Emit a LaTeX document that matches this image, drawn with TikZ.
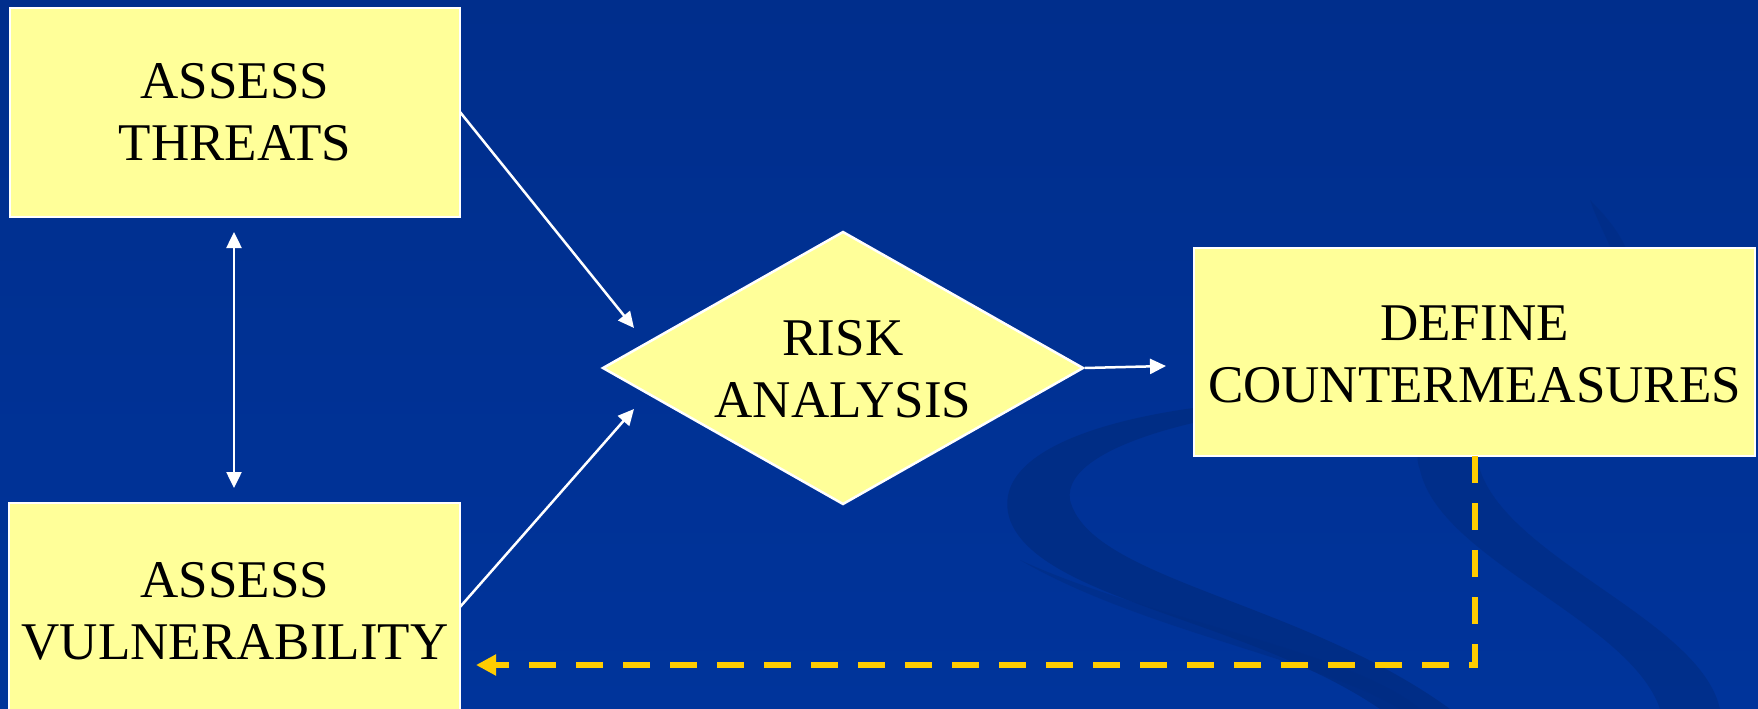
\documentclass[tikz,border=0pt]{standalone}
\usepackage{fontspec}
\setmainfont{Liberation Serif}
\usetikzlibrary{shapes.geometric,arrows.meta}
\definecolor{bgtop}{RGB}{0,46,140}
\definecolor{bgbot}{RGB}{0,52,155}
\definecolor{swoosh}{RGB}{0,44,130}
\definecolor{boxfill}{RGB}{255,255,153}
\definecolor{dashyellow}{RGB}{255,204,0}
\tikzset{
  box/.style={draw=white, line width=2.5pt, fill=boxfill, rectangle, inner sep=0pt},
  diamondbox/.style={draw=white, line width=2.5pt, fill=boxfill, diamond, inner sep=0pt, aspect=1.76},
  txt/.style={align=center, font=\fontsize{53}{62}\selectfont, text=black, inner sep=0pt},
  flow/.style={draw=white, line width=2.5pt, -{Triangle[length=16pt,width=15pt]}},
  both/.style={draw=white, line width=2.5pt, {Triangle[length=16pt,width=15pt]}-{Triangle[length=16pt,width=15pt]}},
  feedback/.style={draw=dashyellow, line width=6pt, dash pattern=on 27pt off 20pt, -{Triangle[length=20pt,width=20pt]}}
}
\begin{document}
\begin{tikzpicture}[x=1pt,y=-1pt]
\useasboundingbox (0,0) rectangle (1758,709);
\clip (0,0) rectangle (1758,709);
\shade[top color=bgtop, bottom color=bgbot] (0,0) rectangle (1758,709);
% background swooshes
\fill[swoosh, opacity=0.8] (1010,520) .. controls (980,430) and (1200,390) .. (1400,400)
  .. controls (1250,400) and (1060,440) .. (1070,500)
  .. controls (1090,580) and (1300,600) .. (1450,709)
  -- (1380,709) .. controls (1250,620) and (1040,600) .. (1010,520) -- cycle;
\fill[swoosh, opacity=0.6] (1420,470) .. controls (1400,420) and (1500,330) .. (1620,320)
  .. controls (1530,350) and (1460,420) .. (1480,470)
  .. controls (1510,560) and (1700,620) .. (1720,709)
  -- (1660,709) .. controls (1630,620) and (1440,560) .. (1420,470) -- cycle;
\fill[swoosh, opacity=0.5] (1590,200) .. controls (1620,230) and (1640,260) .. (1630,300)
  .. controls (1620,260) and (1600,230) .. (1590,200) -- cycle;
\fill[swoosh, opacity=0.5] (1020,560) .. controls (1150,620) and (1350,650) .. (1420,709)
  -- (1400,709) .. controls (1320,660) and (1140,630) .. (1020,560) -- cycle;

\node[box, minimum width=450pt, minimum height=209pt] (threats) at (235,112.5) {};
\node[txt] (threatsT) at (threats.center) {ASSESS\\THREATS};
\node[box, minimum width=451pt, minimum height=220pt] (vuln) at (234.5,613) {};
\node[txt] (vulnT) at (235,611) {ASSESS\\VULNERABILITY};
\node[diamondbox, minimum width=481pt, minimum height=273pt] (risk) at (843,368) {};
\node[txt] (riskT) at (843,369) {RISK\\ANALYSIS};
\node[box, minimum width=561pt, minimum height=208pt] (define) at (1474.5,352) {};
\node[txt] (defineT) at (1474.5,354) {DEFINE\\COUNTERMEASURES};

\coordinate (a1s) at (460,112);
\coordinate (a1e) at (634,328);
\coordinate (a2s) at (460,607);
\coordinate (a2e) at (634,409);
\coordinate (a3e) at (1166,366);
\coordinate (vtop) at (234,232);
\coordinate (vbot) at (234,488);
\coordinate (fbA) at (1474.5,456);
\coordinate (fbB) at (1474.5,665);
\coordinate (fbC) at (476,665);

\draw[flow] (a1s) -- (a1e);
\draw[flow] (a2s) -- (a2e);
\draw[flow] (risk.east) -- (a3e);
\draw[both] (vtop) -- (vbot);
\draw[feedback] (fbA) -- (fbB) -- (fbC);
\end{tikzpicture}
\end{document}
